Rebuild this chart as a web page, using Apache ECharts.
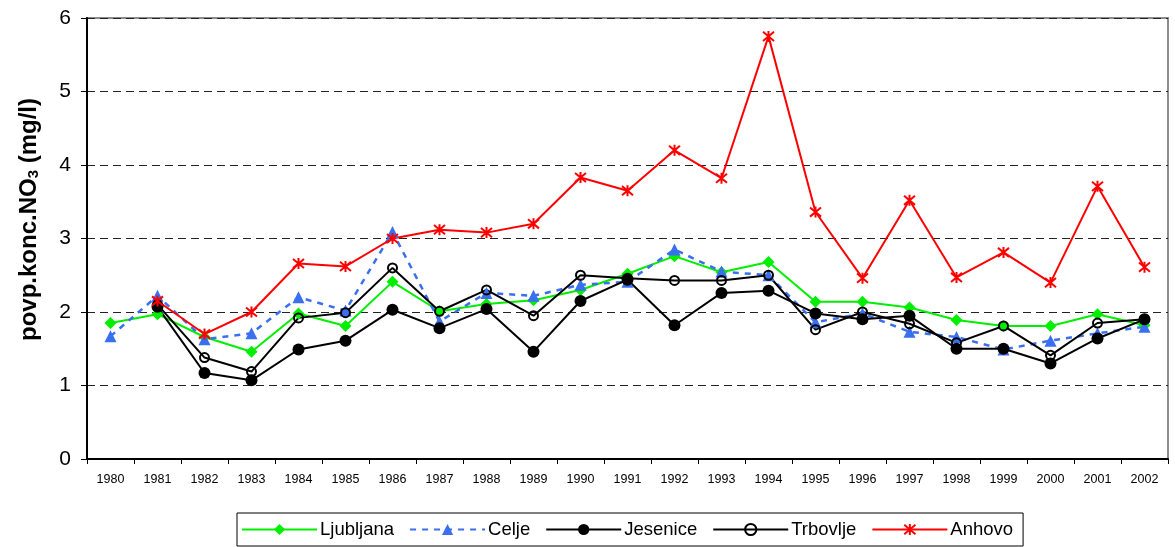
<!DOCTYPE html>
<html>
<head>
<meta charset="utf-8">
<script src="https://cdn.jsdelivr.net/npm/echarts@6/dist/echarts.min.js"></script>
<style>
  html, body { margin: 0; padding: 0; background: #fff; }
  #chart { width: 1175px; height: 547px; }
</style>
</head>
<body>
<div id="chart"></div>
<script>
// Yearly mean nitrate concentration (mg/l) at five stations
const years = ['1980','1981','1982','1983','1984','1985','1986','1987','1988','1989','1990','1991',
               '1992','1993','1994','1995','1996','1997','1998','1999','2000','2001','2002'];

const ljubljana = [1.85, 1.97, 1.66, 1.46, 1.98, 1.81, 2.41, 2.01, 2.11, 2.16, 2.30, 2.52,
                   2.76, 2.54, 2.68, 2.14, 2.14, 2.06, 1.89, 1.81, 1.81, 1.97, 1.82];
const celje     = [1.67, 2.22, 1.63, 1.71, 2.20, 2.02, 3.09, 1.87, 2.26, 2.22, 2.37, 2.41,
                   2.85, 2.55, 2.50, 1.86, 1.98, 1.73, 1.66, 1.49, 1.61, 1.71, 1.80];
const jesenice  = [null, 2.07, 1.17, 1.07, 1.49, 1.61, 2.03, 1.78, 2.04, 1.46, 2.15, 2.44,
                   1.82, 2.26, 2.29, 1.98, 1.90, 1.95, 1.50, 1.50, 1.30, 1.64, 1.90];
const trbovlje  = [null, 2.10, 1.38, 1.19, 1.92, 1.99, 2.60, 2.01, 2.30, 1.95, 2.50, 2.46,
                   2.43, 2.43, 2.50, 1.76, 2.00, 1.84, 1.58, 1.81, 1.41, 1.85, 1.90];
const anhovo    = [null, 2.15, 1.70, 2.00, 2.66, 2.62, 3.00, 3.12, 3.08, 3.20, 3.83, 3.65,
                   4.20, 3.82, 5.75, 3.36, 2.46, 3.52, 2.47, 2.81, 2.40, 3.71, 2.61];

const yTicks = { min: 0, max: 6, interval: 1 };

const FONT = '"Liberation Sans", Arial, sans-serif';
const chart = echarts.init(document.getElementById('chart'));

function lineSeries(name, data, color, symbol, size, extra) {
  return Object.assign({
    name: name,
    type: 'line',
    data: data,
    symbol: symbol,
    symbolSize: size,
    showAllSymbol: true,
    connectNulls: false,
    animation: false,
    lineStyle: { color: color, width: 2 },
    itemStyle: { color: color, borderColor: color, borderWidth: 0 }
  }, extra || {});
}

chart.setOption({
  animation: false,
  backgroundColor: '#ffffff',
  grid: {
    left: 87, right: 7, top: 18, bottom: 88,
    show: true, borderColor: '#8c8c8c', borderWidth: 2, backgroundColor: 'transparent'
  },
  legend: {
    left: 237, top: 513,
    padding: [7, 10, 7, 4],
    borderColor: '#000', borderWidth: 1,
    itemWidth: 75, itemHeight: 14, itemGap: 15,
    textStyle: { fontFamily: FONT, fontSize: 18.5, color: '#000', padding: [0, 0, 0, -2] },
    data: ['Ljubljana', 'Celje', 'Jesenice', 'Trbovlje', 'Anhovo']
  },
  xAxis: {
    type: 'category',
    data: years,
    boundaryGap: true,
    axisLine: { lineStyle: { color: '#000', width: 2 } },
    axisTick: { show: true, length: 5, lineStyle: { color: '#000', width: 1 } },
    axisLabel: { fontFamily: FONT, fontSize: 12.5, color: '#000', margin: 14 },
    splitLine: { show: false }
  },
  yAxis: {
    type: 'value',
    min: yTicks.min, max: yTicks.max, interval: yTicks.interval,
    name: 'povp.konc.NO{sub|3} (mg/l)',
    nameLocation: 'middle',
    nameGap: 46,
    nameRotate: 90,
    nameTextStyle: {
      fontFamily: FONT, fontSize: 24, fontWeight: 'bold', color: '#000',
      padding: [0, 0, 0, 38],
      rich: {
        sub: { fontFamily: FONT, fontSize: 15, fontWeight: 'bold', color: '#000', verticalAlign: 'bottom', padding: [9, 0, 0, 0] }
      }
    },
    axisLine: { show: true, lineStyle: { color: '#000', width: 2 } },
    axisTick: { show: true, length: 6, lineStyle: { color: '#000', width: 1 } },
    axisLabel: { fontFamily: FONT, fontSize: 21, color: '#000', margin: 16 },
    splitLine: { show: true, lineStyle: { color: '#222', width: 1, type: [8, 5] } }
  },
  series: [
    lineSeries('Ljubljana', ljubljana, '#00ee00', 'diamond', 12),
    lineSeries('Celje', celje, '#3a6ff0', 'triangle', 12, {
      lineStyle: { color: '#3a6ff0', width: 2.5, type: [6, 6] }
    }),
    lineSeries('Jesenice', jesenice, '#000000', 'circle', 12),
    lineSeries('Trbovlje', trbovlje, '#000000', 'circle', 9, {
      itemStyle: { color: 'rgba(0,0,0,0)', borderColor: '#000', borderWidth: 2 }
    }),
    lineSeries('Anhovo', anhovo, '#ff0000', 'path://M0,0L10,10M10,0L0,10M5,-1L5,11', 11, {
      itemStyle: { color: '#ff0000', borderColor: '#ff0000', borderWidth: 2 }
    })
  ]
});
</script>
</body>
</html>
